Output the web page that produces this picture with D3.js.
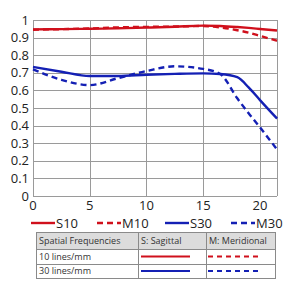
<!DOCTYPE html>
<head>
    <style>
        body { margin: 0; background: #fff; }
        svg { display: block; font-family: 'Open Sans', sans-serif; }
        .grid line { stroke: #9a9a9a; stroke-width: 1px; shape-rendering: crispEdges; }
        .axis text { font-size: 13px; fill: #222; }
        .legend text { font-size: 13px; fill: #222; }
        .tbl text { font-size: 9px; fill: #333; }
        .line { fill: none; stroke-width: 2.4px; }
    </style>
</head>
<body>
    <div id="chart"></div>
    <script src="https://d3js.org/d3.v7.min.js"></script>
    <script>
        // spatial frequency positions (lines/mm from centre, x axis)
        var freq = [0, 2.5, 5, 7.5, 10, 12.5, 15, 16.5, 18, 19, 20, 21.5];

        var s10 = [0.947, 0.948, 0.950, 0.953, 0.957, 0.962, 0.968, 0.966, 0.960, 0.955, 0.949, 0.940];
        var m10 = [0.945, 0.948, 0.952, 0.958, 0.961, 0.963, 0.966, 0.958, 0.942, 0.928, 0.910, 0.882];
        var s30 = [0.733, 0.706, 0.682, 0.682, 0.689, 0.694, 0.697, 0.693, 0.675, 0.617, 0.545, 0.440];
        var m30 = [0.720, 0.660, 0.630, 0.670, 0.710, 0.737, 0.722, 0.693, 0.555, 0.470, 0.390, 0.265];

        var xTicks = [0, 5, 10, 15, 20];
        var yTicks = [0, 0.1, 0.2, 0.3, 0.4, 0.5, 0.6, 0.7, 0.8, 0.9, 1];

        var seriesNames = ["S10", "M10", "S30", "M30"];
        var tableHeader = ["Spatial Frequencies", "S: Sagittal", "M: Meridional"];
        var tableRows = ["10 lines/mm", "30 lines/mm"];

        var red = "#d0101c", blue = "#1420b4";
        var styles = {
            S10: {color: red, dash: null},
            M10: {color: red, dash: "6,4"},
            S30: {color: blue, dash: null},
            M30: {color: blue, dash: "6,4"}
        };

        var W = 287, H = 286;
        var margin = {top: 20, right: 10, bottom: 90, left: 33};

        var svg = d3.select("#chart").append("svg")
            .attr("width", W)
            .attr("height", H);

        var x = d3.scaleLinear().domain([0, 21.5]).range([margin.left, W - margin.right]);
        var y = d3.scaleLinear().domain([0, 1]).range([H - margin.bottom, margin.top]);

        // grid
        var grid = svg.append("g").attr("class", "grid");
        grid.selectAll("line.h").data(yTicks).enter().append("line")
            .attr("x1", x(0)).attr("x2", x(21.5))
            .attr("y1", function(d) { return Math.round(y(d)) + 0.5; })
            .attr("y2", function(d) { return Math.round(y(d)) + 0.5; });
        grid.selectAll("line.v").data(xTicks.concat([21.5])).enter().append("line")
            .attr("y1", y(0)).attr("y2", y(1))
            .attr("x1", function(d) { return Math.round(x(d)) + 0.5; })
            .attr("x2", function(d) { return Math.round(x(d)) + 0.5; });

        // axes labels
        var ax = svg.append("g").attr("class", "axis");
        ax.selectAll("text.y").data(yTicks).enter().append("text")
            .attr("x", x(0) - 4)
            .attr("y", function(d) { return y(d); })
            .attr("dy", "0.35em")
            .attr("text-anchor", "end")
            .text(function(d) { return d3.format("~g")(d); });
        ax.selectAll("text.x").data(xTicks).enter().append("text")
            .attr("x", function(d) { return x(d); })
            .attr("y", y(0) + 14)
            .attr("text-anchor", "middle")
            .text(function(d) { return d; });

        // curves
        var dataMap = {S10: s10, M10: m10, S30: s30, M30: m30};
        var line = d3.line()
            .x(function(d) { return x(d[0]); })
            .y(function(d) { return y(d[1]); })
            .curve(d3.curveMonotoneX);

        seriesNames.forEach(function(name) {
            var pts = freq.map(function(f, i) { return [f, dataMap[name][i]]; });
            svg.append("path")
                .attr("class", "line")
                .attr("d", line(pts))
                .attr("stroke", styles[name].color)
                .attr("stroke-dasharray", styles[name].dash);
        });

        // legend
        var legX = [31, 97, 165, 231];
        var legY = 223;
        var lg = svg.append("g").attr("class", "legend");
        seriesNames.forEach(function(name, i) {
            lg.append("line")
                .attr("x1", legX[i]).attr("x2", legX[i] + 24)
                .attr("y1", legY).attr("y2", legY)
                .attr("stroke", styles[name].color)
                .attr("stroke-width", 2.4)
                .attr("stroke-dasharray", styles[name].dash);
            lg.append("text")
                .attr("x", legX[i] + 25)
                .attr("y", legY)
                .attr("dy", "0.35em")
                .text(name);
        });

        // table
        var colX = [36, 138, 206, 275];
        var rowY = [232, 249, 264, 278];
        var tbl = svg.append("g").attr("class", "tbl");
        tbl.append("rect")
            .attr("x", colX[0] + 0.5).attr("y", rowY[0] + 0.5)
            .attr("width", colX[3] - colX[0]).attr("height", rowY[1] - rowY[0])
            .attr("fill", "#dcdcdc");
        tbl.append("rect")
            .attr("x", colX[0] + 0.5).attr("y", rowY[0] + 0.5)
            .attr("width", colX[3] - colX[0]).attr("height", rowY[3] - rowY[0])
            .attr("fill", "none").attr("stroke", "#8a8a8a");
        [rowY[1], rowY[2]].forEach(function(yy) {
            tbl.append("line").attr("x1", colX[0]).attr("x2", colX[3])
                .attr("y1", yy + 0.5).attr("y2", yy + 0.5).attr("stroke", "#8a8a8a");
        });
        [colX[1], colX[2]].forEach(function(xx) {
            tbl.append("line").attr("y1", rowY[0]).attr("y2", rowY[3])
                .attr("x1", xx + 0.5).attr("x2", xx + 0.5).attr("stroke", "#8a8a8a");
        });
        tableHeader.forEach(function(t, i) {
            tbl.append("text").attr("x", colX[i] + 3)
                .attr("y", (rowY[0] + rowY[1]) / 2).attr("dy", "0.35em").text(t);
        });
        tableRows.forEach(function(t, i) {
            var cy = (rowY[i + 1] + rowY[i + 2]) / 2;
            tbl.append("text").attr("x", colX[0] + 3)
                .attr("y", cy).attr("dy", "0.35em").text(t);
            var sName = seriesNames[i * 2], mName = seriesNames[i * 2 + 1];
            tbl.append("line").attr("x1", 141).attr("x2", 190)
                .attr("y1", cy).attr("y2", cy)
                .attr("stroke", styles[sName].color).attr("stroke-width", 2);
            tbl.append("line").attr("x1", 208).attr("x2", 260)
                .attr("y1", cy).attr("y2", cy)
                .attr("stroke", styles[mName].color).attr("stroke-width", 2)
                .attr("stroke-dasharray", "5,4");
        });
    </script>
</body>
